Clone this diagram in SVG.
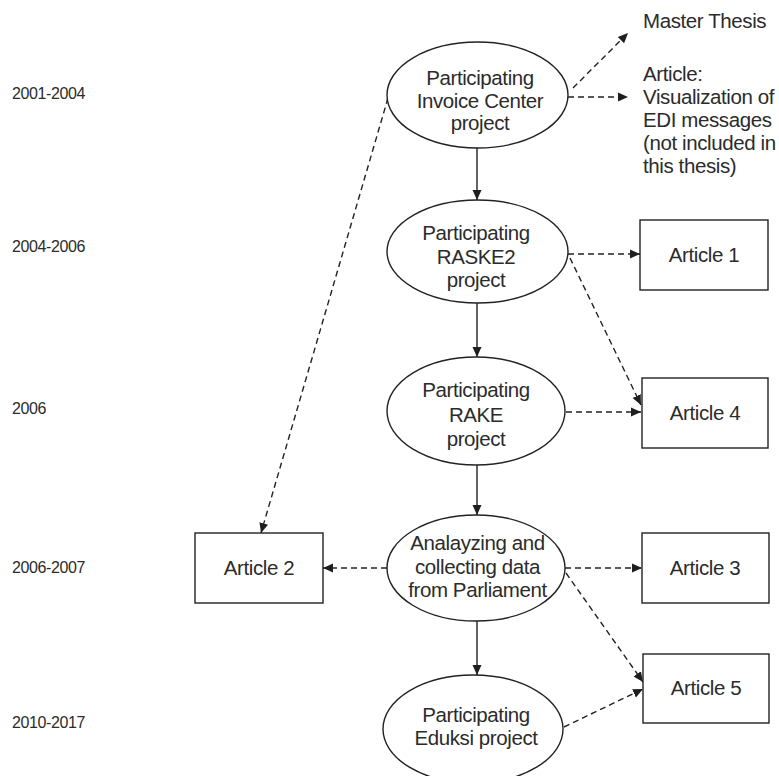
<svg xmlns="http://www.w3.org/2000/svg" width="779" height="776" viewBox="0 0 779 776">
  <defs>
    <marker id="arrow" viewBox="0 0 10 10" refX="10" refY="5" markerWidth="10" markerHeight="10" markerUnits="userSpaceOnUse" orient="auto">
      <path d="M0,0.5 L10,5 L0,9.5 z" fill="#1e1e1e"/>
    </marker>
  </defs>
  <style>
    text { font-family: "Liberation Sans", Arial, sans-serif; fill: #2b2b2b; }
    .lbl { font-size: 20.5px; letter-spacing: -0.4px; text-anchor: middle; }
    .free { font-size: 20.5px; letter-spacing: -0.4px; }
    .year { font-size: 16px; letter-spacing: -0.4px; }
    .node ellipse, .node rect { fill: #fff; stroke: #222; stroke-width: 1.4; }
    .flow { stroke: #222; stroke-width: 1.4; fill: none; marker-end: url(#arrow); }
    .dash { stroke-dasharray: 6 4; }
  </style>
  <rect width="779" height="776" fill="#fff"/>

  <!-- time periods -->
  <g id="years">
    <text class="year" x="12" y="99">2001-2004</text>
    <text class="year" x="12" y="252">2004-2006</text>
    <text class="year" x="12" y="414">2006</text>
    <text class="year" x="12" y="573">2006-2007</text>
    <text class="year" x="12" y="728">2010-2017</text>
  </g>

  <!-- connectors -->
  <g id="connectors">
    <line class="flow" x1="477" y1="148" x2="477" y2="200"/>
    <line class="flow" x1="477" y1="303" x2="477" y2="357"/>
    <line class="flow" x1="477" y1="465" x2="477" y2="515"/>
    <line class="flow" x1="477" y1="621" x2="477" y2="675"/>

    <line class="flow dash" x1="573" y1="88" x2="628" y2="33"/>
    <line class="flow dash" x1="568" y1="97" x2="628" y2="97"/>
    <line class="flow dash" x1="388" y1="98" x2="261" y2="533"/>

    <line class="flow dash" x1="568" y1="254" x2="640" y2="254"/>
    <line class="flow dash" x1="570" y1="258" x2="641" y2="405"/>
    <line class="flow dash" x1="566" y1="412" x2="641" y2="412"/>

    <line class="flow dash" x1="387" y1="568" x2="323" y2="568"/>
    <line class="flow dash" x1="565" y1="568" x2="642" y2="568"/>
    <line class="flow dash" x1="566" y1="573" x2="643" y2="682"/>
    <line class="flow dash" x1="564" y1="727" x2="643" y2="689"/>
  </g>

  <!-- process nodes -->
  <g id="invoice-center" class="node">
    <ellipse cx="477.5" cy="95" rx="90.5" ry="53"/>
    <text class="lbl" x="480" y="85">Participating</text>
    <text class="lbl" x="480" y="108">Invoice Center</text>
    <text class="lbl" x="480" y="130">project</text>
  </g>
  <g id="raske2" class="node">
    <ellipse cx="477.5" cy="251.5" rx="90.5" ry="51.5"/>
    <text class="lbl" x="476" y="240">Participating</text>
    <text class="lbl" x="476" y="264">RASKE2</text>
    <text class="lbl" x="476" y="287">project</text>
  </g>
  <g id="rake" class="node">
    <ellipse cx="476" cy="411" rx="89" ry="54"/>
    <text class="lbl" x="476" y="397">Participating</text>
    <text class="lbl" x="476" y="422">RAKE</text>
    <text class="lbl" x="476" y="446">project</text>
  </g>
  <g id="parliament" class="node">
    <ellipse cx="476" cy="568" rx="89" ry="53"/>
    <text class="lbl" x="477.5" y="550">Analayzing and</text>
    <text class="lbl" x="477.5" y="574">collecting data</text>
    <text class="lbl" x="477.5" y="597">from Parliament</text>
  </g>
  <g id="eduksi" class="node">
    <ellipse cx="473" cy="729" rx="90" ry="54"/>
    <text class="lbl" x="476" y="722">Participating</text>
    <text class="lbl" x="476" y="745">Eduksi project</text>
  </g>

  <!-- outputs -->
  <g id="master-thesis">
    <text class="free" x="643" y="28">Master Thesis</text>
  </g>
  <g id="edi-article">
    <text class="free" x="643" y="81">Article:</text>
    <text class="free" x="643" y="104">Visualization of</text>
    <text class="free" x="643" y="127">EDI messages</text>
    <text class="free" x="643" y="150">(not included in</text>
    <text class="free" x="643" y="173">this thesis)</text>
  </g>
  <g id="article-1" class="node">
    <rect x="640" y="220" width="128" height="70"/>
    <text class="lbl" x="704" y="262">Article 1</text>
  </g>
  <g id="article-4" class="node">
    <rect x="642" y="378" width="126" height="70"/>
    <text class="lbl" x="705" y="420">Article 4</text>
  </g>
  <g id="article-2" class="node">
    <rect x="195" y="533" width="128" height="70"/>
    <text class="lbl" x="259" y="575">Article 2</text>
  </g>
  <g id="article-3" class="node">
    <rect x="642" y="533" width="127" height="70"/>
    <text class="lbl" x="705" y="575">Article 3</text>
  </g>
  <g id="article-5" class="node">
    <rect x="643" y="654" width="126" height="69"/>
    <text class="lbl" x="706" y="695">Article 5</text>
  </g>
</svg>
